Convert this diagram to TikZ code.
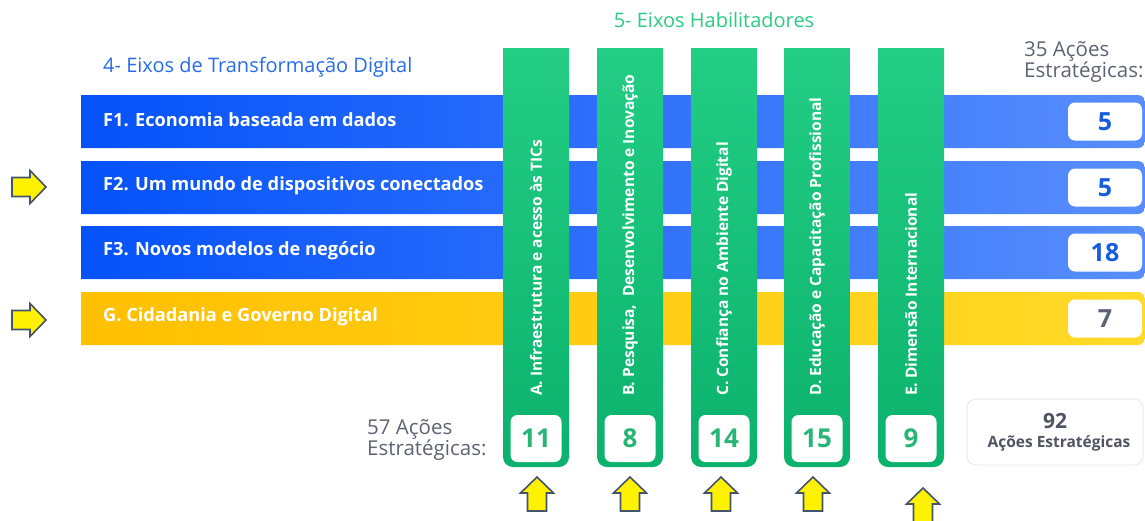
\documentclass[tikz,border=0pt]{standalone}
\usepackage{fontspec}
\setmainfont{Open Sans}
\usetikzlibrary{calc,positioning}

\definecolor{blueL}{RGB}{5,82,250}
\definecolor{blueR}{RGB}{88,142,252}
\definecolor{yellowL}{RGB}{255,192,0}
\definecolor{yellowR}{RGB}{255,218,40}
\definecolor{greenT}{RGB}{36,205,132}
\definecolor{greenB}{RGB}{10,178,108}
\definecolor{numgreen}{RGB}{40,182,118}
\definecolor{numblue}{RGB}{22,92,222}
\definecolor{txtgrey}{RGB}{92,99,114}
\definecolor{titleblue}{RGB}{38,108,232}
\definecolor{titlegreen}{RGB}{44,202,132}
\definecolor{arrowedge}{RGB}{68,84,108}

\begin{document}
\begin{tikzpicture}[x=1pt,y=-1pt]
\tikzstyle{bartext}=[text=white, anchor=west, inner sep=0pt, font=\bfseries\fontsize{18.2}{20}\selectfont]
\tikzstyle{coltext}=[text=white, anchor=west, rotate=90, inner sep=0pt, font=\bfseries\fontsize{15.5}{18}\selectfont]
\tikzstyle{numbox}=[fill=white, rounded corners=7pt, inner sep=0pt, font=\bfseries\fontsize{25}{28}\selectfont]
\tikzstyle{greytext}=[text=txtgrey, anchor=west, align=left, inner sep=0pt, font=\fontsize{20.5}{21}\selectfont]
\tikzstyle{yarrow}=[draw=arrowedge, fill=yellow, line width=1.6pt, line join=miter]
\tikzset{blockarrow/.pic={
  \path[yarrow] (-17,-9.5) -- (1,-9.5) -- (1,-16.5) -- (17,0) -- (1,16.5) -- (1,9.5) -- (-17,9.5) -- cycle;}}

\useasboundingbox (0,0) rectangle (1145,520);

% 4- eixos de transformacao digital
\node[text=titleblue, anchor=west, inner sep=0pt, font=\fontsize{20}{22}\selectfont] (T4) at (103,67) {4- Eixos de Transformação Digital};
\foreach \y/\col/\n/\ncol/\t/\name in {95/blue/5/numblue/{F1. Economia baseada em dados}/F1,
    161/blue/5/numblue/{F2. Um mundo de dispositivos conectados}/F2,
    226/blue/18/numblue/{F3. Novos modelos de negócio}/F3,
    292/yellow/7/txtgrey/{G. Cidadania e Governo Digital}/G}{
  \shade[left color=\col L, right color=\col R] (81,\y) -- (1138,\y)
    arc[start angle=-90, end angle=0, radius=7] -- (1145,\y+46)
    arc[start angle=0, end angle=90, radius=7] -- (81,\y+53) -- cycle;
  \node[bartext] (\name) at (103,\y+25) {\t};
  \node[numbox, text=\ncol, minimum width=74pt, minimum height=38pt] (\name n) at (1105,\y+26.5) {\n};
}

% 5- eixos habilitadores
\node[text=titlegreen, inner sep=0pt, font=\fontsize{20}{22}\selectfont] (T5) at (714,20) {5- Eixos Habilitadores};
\foreach \x/\n/\t/\name in {503/11/{A. Infraestrutura e acesso às TICs}/A,
    597/8/{B. Pesquisa,~ Desenvolvimento e Inovação}/B,
    691/14/{C. Confiança no Ambiente Digital}/C,
    784/15/{D. Educação e Capacitação Profissional}/D,
    878/9/{E. Dimensão Internacional}/E}{
  \shade[top color=greenT, bottom color=greenB] (\x,48) -- (\x+66,48) -- (\x+66,457)
    arc[start angle=0, end angle=90, radius=10] -- (\x+10,467)
    arc[start angle=90, end angle=180, radius=10] -- cycle;
  \node[coltext] (\name) at (\x+33,396) {\t};
  \node[numbox, text=numgreen, minimum width=51pt, minimum height=47pt, font=\bfseries\fontsize{26}{28}\selectfont] (\name n) at (\x+33,438.5) {\n};
}

\node[greytext] (S35) at (1024,62) {35 Ações\\Estratégicas:};
\node[greytext] (S57) at (367,440) {57 Ações\\Estratégicas:};
\node[draw=black!8, line width=1pt, fill=white, rounded corners=9pt, minimum width=176pt, minimum height=66pt, inner sep=0pt] (tot) at (1055,432) {};
\node[text=txtgrey!85!black, inner sep=0pt, font=\bfseries\fontsize{21}{22}\selectfont] (totn) at (1055,421) {92};
\node[text=txtgrey!85!black, inner sep=0pt, font=\bfseries\fontsize{15.5}{16}\selectfont] (tott) at (1059,443) {Ações Estratégicas};

% setas
\pic at (29,187) {blockarrow};
\pic at (29,320) {blockarrow};
\foreach \x/\y in {537/494, 630/494, 721/494, 813/494, 923/505}
  \pic[rotate=90] at (\x,\y) {blockarrow};
\end{tikzpicture}
\end{document}
